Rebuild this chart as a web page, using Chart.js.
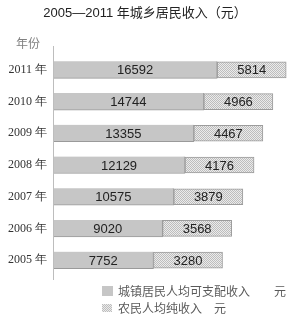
<!DOCTYPE html>
<html>
<head>
<meta charset="utf-8">
<script src="https://cdn.jsdelivr.net/npm/chart.js@4.4.0/dist/chart.umd.min.js"></script>
<style>
  html, body { margin: 0; padding: 0; background: #fff; }
</style>
</head>
<body>
<canvas id="chart" width="298" height="322"></canvas>
<script>
// Data
const years = ['2005', '2006', '2007', '2008', '2009', '2010', '2011'];
const urbanIncome = [7752, 9020, 10575, 12129, 13355, 14744, 16592];
const ruralIncome = [3280, 3568, 3879, 4176, 4467, 4966, 5814];
const seriesNames = ['城镇居民人均可支配收入　　元', '农民人均纯收入　元'];

// The original does not draw to scale: urban bars start from an offset,
// rural values sit in equal-length boxes appended to the urban bar.
const X_MIN = -6200;
const X_MAX = 26700;
const RURAL_BOX = 9580;

const FONT_CJK = '"Noto Sans CJK SC"';

function makeHatch() {
  const p = document.createElement('canvas');
  p.width = 2; p.height = 2;
  const g = p.getContext('2d');
  g.fillStyle = '#ebebeb';
  g.fillRect(0, 0, 2, 2);
  g.fillStyle = '#bdbdbd';
  g.fillRect(0, 0, 1, 1);
  g.fillRect(1, 1, 1, 1);
  return g.createPattern(p, 'repeat');
}

const ctx = document.getElementById('chart').getContext('2d');
const hatch = makeHatch();
const urbanFill = '#c6c6c6';

// Value labels inside the bars, the year unit label, axis line and legend
const decorations = {
  id: 'decorations',
  afterDatasetsDraw(chart) {
    const c = chart.ctx;
    const area = chart.chartArea;
    c.save();

    // axis line, a bit longer than the plot area like the original
    c.strokeStyle = '#bdbdbd';
    c.lineWidth = 1;
    c.beginPath();
    c.moveTo(area.left + 0.5, area.top - 8);
    c.lineTo(area.left + 0.5, area.bottom + 4);
    c.stroke();

    // value labels
    c.font = '13px "Liberation Sans", Arial, sans-serif';
    c.fillStyle = '#222';
    c.textAlign = 'center';
    c.textBaseline = 'middle';
    const values = [urbanIncome, ruralIncome];
    chart.data.datasets.forEach((ds, di) => {
      chart.getDatasetMeta(di).data.forEach((bar, i) => {
        c.fillText(String(values[di][i]), (bar.x + bar.base) / 2, bar.y + 1);
      });
    });

    // "年份" above the category labels
    c.font = '12px ' + FONT_CJK;
    c.fillStyle = '#808080';
    c.textAlign = 'left';
    c.fillText('年份', 16, 43);

    // legend
    const fills = [urbanFill, hatch];
    const rows = [{ y: 291, box: [102, 286, 11, 10] }, { y: 308, box: [102, 304, 10, 8] }];
    rows.forEach((r, i) => {
      c.fillStyle = fills[i];
      c.fillRect(...r.box);
      c.fillStyle = '#5a5a5a';
      c.font = '12px ' + FONT_CJK;
      c.fillText(seriesNames[i], 118, r.y);
    });
    c.restore();
  }
};

new Chart(ctx, {
  type: 'bar',
  data: {
    labels: years,
    datasets: [
      {
        label: seriesNames[0],
        data: urbanIncome,
        base: X_MIN,
        backgroundColor: urbanFill,
        borderColor: '#9a9a9a',
        borderWidth: { top: 0, right: 1, bottom: 1, left: 0 },
        borderSkipped: false,
        barThickness: 17
      },
      {
        label: seriesNames[1],
        data: urbanIncome.map((u) => [u, u + RURAL_BOX]),
        backgroundColor: hatch,
        borderColor: '#9c9c9c',
        borderWidth: 1,
        borderSkipped: false,
        barThickness: 16
      }
    ]
  },
  options: {
    indexAxis: 'y',
    responsive: false,
    animation: false,
    grouped: false,
    layout: { padding: { top: 0, right: 8, bottom: 46, left: 0 } },
    scales: {
      x: { display: false, min: X_MIN, max: X_MAX },
      y: {
        reverse: true,
        grid: { display: false, drawTicks: false },
        border: { display: false },
        ticks: {
          padding: 6,
          color: '#333',
          font: { family: '"Liberation Serif", "Times New Roman", serif', size: 12 },
          callback(value, index) { return years[index] + ' 年'; }
        },
        afterFit(scale) { scale.width = 53; }
      }
    },
    plugins: {
      legend: { display: false },
      tooltip: { enabled: false },
      title: {
        display: true,
        text: '2005—2011 年城乡居民收入（元）',
        color: '#222',
        font: { family: '"Liberation Sans", ' + FONT_CJK, size: 13, weight: 'normal' },
        padding: { top: 6, bottom: 32.4 }
      }
    }
  },
  plugins: [decorations]
});
</script>
</body>
</html>
